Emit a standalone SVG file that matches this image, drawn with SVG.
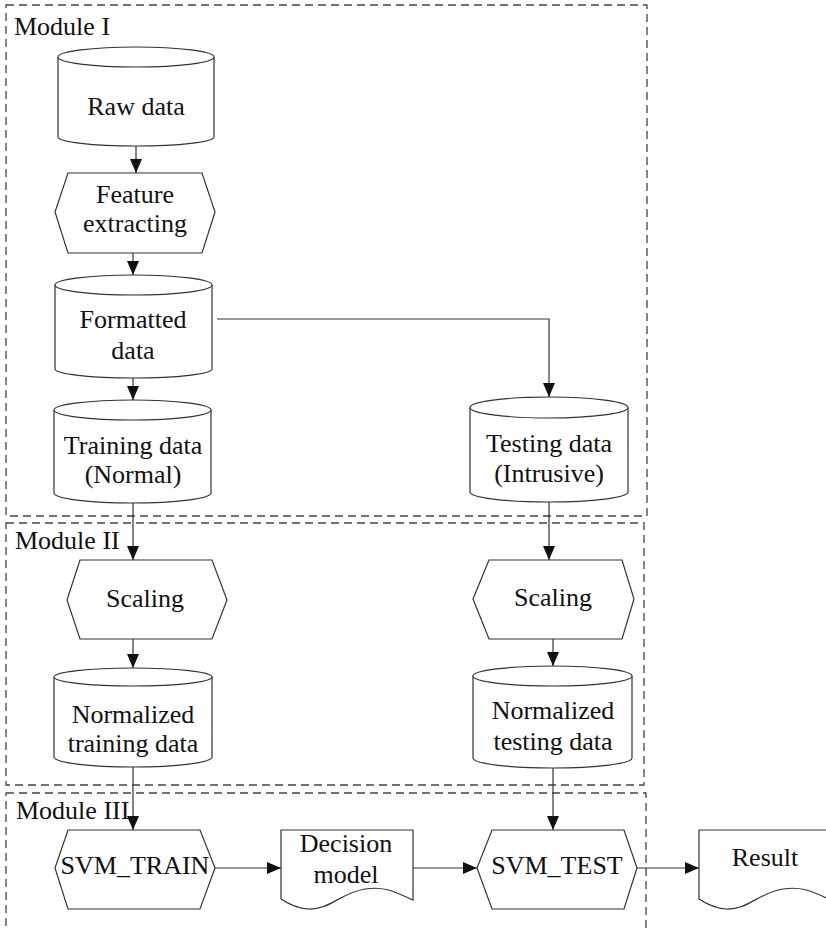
<svg xmlns="http://www.w3.org/2000/svg" width="826" height="928" viewBox="0 0 826 928" font-family="'Liberation Serif', 'DejaVu Serif', 'Times New Roman', Times, serif">
  <style>
    .frame { fill: none; stroke: #444; stroke-width: 1.3; stroke-dasharray: 8 5; }
    .shape { fill: #fff; stroke: #333; stroke-width: 1.2; }
    .edge { fill: none; stroke: #333; stroke-width: 1.2; }
    text { font-family: 'Liberation Serif', 'DejaVu Serif', 'Times New Roman', Times, serif; font-size: 26px; fill: #111; }
    .c { text-anchor: middle; }
  </style>
  <defs>
    <marker id="arrow" markerUnits="userSpaceOnUse" markerWidth="15" markerHeight="15" viewBox="0 0 15 15" refX="14" refY="7.5" orient="auto">
      <path d="M0,1.5 L14,7.5 L0,13.5 Z" fill="#111"/>
    </marker>
  </defs>

  <rect width="826" height="928" fill="#fff"/>

  <!-- module frames -->
  <g id="module-1">
    <rect class="frame" x="6" y="5" width="641" height="511"/>
    <text x="14" y="35">Module I</text>
  </g>
  <g id="module-2">
    <rect class="frame" x="6" y="523" width="638" height="262"/>
    <text x="15" y="549">Module II</text>
  </g>
  <g id="module-3">
    <rect class="frame" x="6" y="793" width="640" height="200"/>
    <text x="16" y="819">Module III</text>
  </g>

  <!-- connectors -->
  <g id="connectors">
    <path class="edge" d="M136,146 V173" marker-end="url(#arrow)"/>
    <path class="edge" d="M133,253 V275" marker-end="url(#arrow)"/>
    <path class="edge" d="M133,378 V400" marker-end="url(#arrow)"/>
    <path class="edge" d="M217,319 H549 V397" marker-end="url(#arrow)"/>
    <path class="edge" d="M133,503 V560" marker-end="url(#arrow)"/>
    <path class="edge" d="M133,639 V668" marker-end="url(#arrow)"/>
    <path class="edge" d="M133,767 V830" marker-end="url(#arrow)"/>
    <path class="edge" d="M549,502 V560" marker-end="url(#arrow)"/>
    <path class="edge" d="M553,639 V666" marker-end="url(#arrow)"/>
    <path class="edge" d="M553,768 V830" marker-end="url(#arrow)"/>
    <path class="edge" d="M215,868 H281" marker-end="url(#arrow)"/>
    <path class="edge" d="M413,868 H477" marker-end="url(#arrow)"/>
    <path class="edge" d="M637,868 H699" marker-end="url(#arrow)"/>
  </g>

  <!-- Module I nodes -->
  <g id="raw-data">
    <path class="shape" d="M58,57 V137 A78,9 0 0 0 214,137 V57"/>
    <ellipse class="shape" cx="136" cy="57" rx="78" ry="10"/>
    <text class="c" x="136" y="115">Raw data</text>
  </g>
  <g id="feature-extracting">
    <polygon class="shape" points="68,173 202,173 215,212 202,253 68,253 55,212"/>
    <text class="c" x="135" y="203">Feature</text>
    <text class="c" x="135" y="232">extracting</text>
  </g>
  <g id="formatted-data">
    <path class="shape" d="M55,285 V369 A78.5,9 0 0 0 212,369 V285"/>
    <ellipse class="shape" cx="133.5" cy="285" rx="78.5" ry="10"/>
    <text class="c" x="133" y="328">Formatted</text>
    <text class="c" x="133" y="359">data</text>
  </g>
  <g id="training-data">
    <path class="shape" d="M54,410 V493 A78.5,10 0 0 0 211,493 V410"/>
    <ellipse class="shape" cx="132.5" cy="410" rx="78.5" ry="10"/>
    <text class="c" x="133" y="454">Training data</text>
    <text class="c" x="133" y="483">(Normal)</text>
  </g>
  <g id="testing-data">
    <path class="shape" d="M470,407.5 V492 A79,10 0 0 0 628,492 V407.5"/>
    <ellipse class="shape" cx="549" cy="407.5" rx="79" ry="10.5"/>
    <text class="c" x="549" y="452">Testing data</text>
    <text class="c" x="549" y="482">(Intrusive)</text>
  </g>

  <!-- Module II nodes -->
  <g id="scaling-train">
    <polygon class="shape" points="80,560 212,560 227,600 212,639 80,639 67,600"/>
    <text class="c" x="145" y="607">Scaling</text>
  </g>
  <g id="scaling-test">
    <polygon class="shape" points="489,560 622,560 634,599 622,639 489,639 473,599"/>
    <text class="c" x="553" y="606">Scaling</text>
  </g>
  <g id="normalized-training">
    <path class="shape" d="M54,677 V757 A79,10 0 0 0 212,757 V677"/>
    <ellipse class="shape" cx="133" cy="677" rx="79" ry="9"/>
    <text class="c" x="133" y="723">Normalized</text>
    <text class="c" x="133" y="752">training data</text>
  </g>
  <g id="normalized-testing">
    <path class="shape" d="M473,676 V758 A79.5,10 0 0 0 632,758 V676"/>
    <ellipse class="shape" cx="552.5" cy="676" rx="79.5" ry="10"/>
    <text class="c" x="553" y="719">Normalized</text>
    <text class="c" x="553" y="750">testing data</text>
  </g>

  <!-- Module III nodes -->
  <g id="svm-train">
    <polygon class="shape" points="68,830 200,830 215,868 200,909 68,909 55,868"/>
    <text class="c" x="135" y="874">SVM_TRAIN</text>
  </g>
  <g id="decision-model">
    <path class="shape" d="M281,830 H413 V900 C395,892 385,886 365,889 C340,893 330,910 308,909 C295,908 287,903 281,899 Z"/>
    <text class="c" x="346" y="852">Decision</text>
    <text class="c" x="346" y="883">model</text>
  </g>
  <g id="svm-test">
    <polygon class="shape" points="492,830 624,830 637,868 624,909 492,909 477,868"/>
    <text class="c" x="557" y="874">SVM_TEST</text>
  </g>
  <g id="result">
    <path class="shape" d="M699,830 H831 V900 C813,892 803,886 783,889 C758,893 748,910 726,909 C713,908 705,903 699,899 Z"/>
    <text class="c" x="765" y="866">Result</text>
  </g>
</svg>
